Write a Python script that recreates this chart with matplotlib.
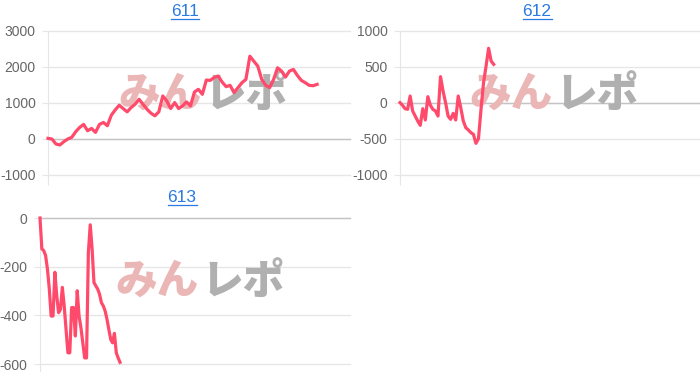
import matplotlib
matplotlib.use("Agg")
import matplotlib.pyplot as plt
from matplotlib.lines import Line2D

plt.rcParams["font.family"] = ["Liberation Sans", "DejaVu Sans"]

# --- data (cumulative values per chart) ---
titles = ["611", "612", "613"]

vals_611 = [18, 0, -138, -166, -74, 0, 46, 202, 322, 405, 230, 294, 184, 405,
            460, 368, 662, 810, 938, 846, 754, 874, 966, 1104, 966, 828, 718,
            644, 754, 1196, 1058, 846, 1012, 846, 920, 1030, 920, 1306, 1380,
            1242, 1638, 1628, 1711, 1748, 1582, 1454, 1490, 1288, 1426, 1564,
            1656, 2300, 2162, 2024, 1656, 1490, 1426, 1656, 1978, 1886, 1720,
            1886, 1932, 1766, 1628, 1564, 1490, 1480, 1518]

vals_612 = [5, -32, -79, -88, 97, -111, -181, -250, -310, -79, -236, 88, -32,
            -88, -111, -181, 366, 167, 5, -181, -227, -144, -236, 97, -65,
            -250, -343, -375, -412, -435, -560, -495, -88, 282, 514, 760,
            583, 537]

vals_613 = [0, -127, -134, -154, -210, -292, -403, -403, -223, -320, -389,
            -375, -285, -361, -458, -554, -554, -368, -368, -485, -299, -403,
            -451, -513, -575, -575, -141, -28, -127, -265, -279, -292, -313,
            -348, -361, -382, -416, -458, -499, -513, -474, -554, -575, -593]

series = [vals_611, vals_612, vals_613]
label_slots = [76.3, 118.5, 166.6]   # number of x categories on each axis
yticks = [[-1000, 0, 1000, 2000, 3000],
          [-1000, -500, 0, 500, 1000],
          [-600, -400, -200, 0]]

LINE = "#ff4a6b"
GRID = "#e6e6e6"
ZERO = "#c4c4c4"
TICK_TXT = "#666666"
TITLE_BLUE = "#2a7ae2"

W, H = 700, 372
fig = plt.figure(figsize=(W / 100, H / 100), dpi=100)

# axes boxes in pixels: left, top, right, bottom
boxes = [(48, 31, 350, 175), (400, 31, 700, 175), (40, 218, 350, 364)]
title_pos = [(185, 12), (537, 12), (182, 198)]
mark_pos = [(203, 95), (554, 95), (200, 282)]


def px(x, y):
    return x / W, 1 - y / H


for i, vals in enumerate(series):
    l, t, r, b = boxes[i]
    ax = fig.add_axes([l / W, 1 - b / H, (r - l) / W, (b - t) / H])
    ax.set_xlim(0, label_slots[i])
    ax.set_ylim(yticks[i][0], yticks[i][-1])
    ax.set_yticks(yticks[i])
    ax.set_yticklabels([str(v) for v in yticks[i]])
    ax.set_xticks([0])
    ax.set_xticklabels([""])
    ax.tick_params(axis="y", length=4, color=GRID, labelcolor=TICK_TXT,
                   labelsize=10, pad=5)
    ax.tick_params(axis="x", length=7, color=GRID)
    for s in ["top", "right", "bottom"]:
        ax.spines[s].set_visible(False)
    ax.spines["left"].set_color(GRID)
    ax.yaxis.grid(True, color=GRID, lw=1)
    ax.set_axisbelow(True)
    for gl in ax.get_ygridlines():
        gl.set_clip_on(False)
    ax.axhline(0, color=ZERO, lw=1, zorder=1, clip_on=False)

    ax.plot(range(len(vals)), vals, color=LINE, lw=2.3, zorder=5,
            clip_on=False)

    # watermark
    mx, my = px(*mark_pos[i])
    ax.text(mx - 0.002, my, "みん", transform=fig.transFigure, ha="right",
            va="center", fontsize=30, fontweight="black", color="#ebb6b6",
            family=["Noto Sans CJK JP"], zorder=2)
    ax.text(mx + 0.002, my, "レポ", transform=fig.transFigure, ha="left",
            va="center", fontsize=30, fontweight="black", color="#b0b0b0",
            family=["Noto Sans CJK JP"], zorder=2)

    tx, ty = px(*title_pos[i])
    fig.text(tx, ty, titles[i], ha="center", va="center", fontsize=12.5,
             color=TITLE_BLUE)

# underline the titles like links
fig.canvas.draw()
renderer = fig.canvas.get_renderer()
for t in fig.texts:
    bb = t.get_window_extent(renderer)
    y0 = (bb.y0 + 1) / H
    fig.add_artist(Line2D([bb.x0 / W, bb.x1 / W], [y0, y0], color=TITLE_BLUE,
                          lw=0.9))

fig.savefig("out.png", dpi=100)
